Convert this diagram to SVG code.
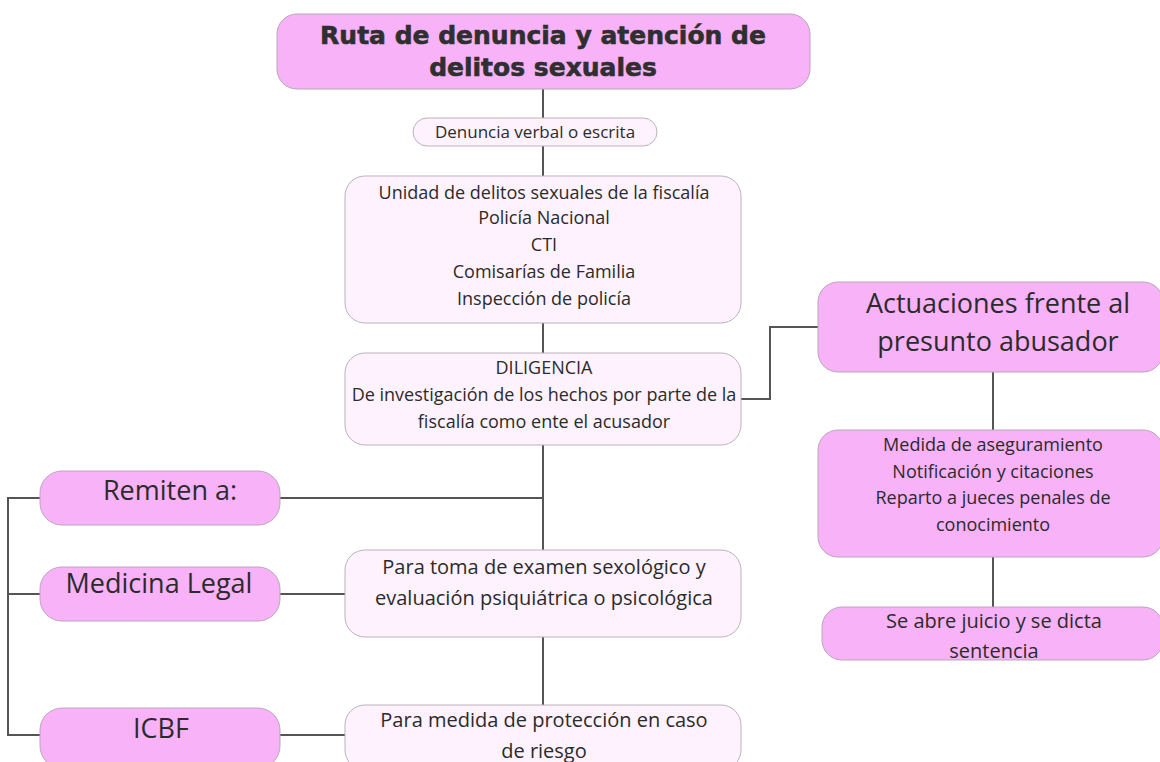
<svg xmlns="http://www.w3.org/2000/svg" width="1160" height="762" viewBox="0 0 1160 762">
<style>
.pk{fill:#f8b2f8;stroke:#b9a6b9;stroke-width:1}
.lt{fill:#fdf2fd;stroke:#bcb2bc;stroke-width:1}
.t{font-family:"Open Sans","Liberation Sans",sans-serif;fill:#2b2b2b;text-anchor:middle}
.s{font-size:18px}
.m{font-size:20px}
.l{font-size:27px}
.title{font-family:"DejaVu Sans","Liberation Sans",sans-serif;font-weight:bold;font-size:25px;fill:#2f2f2f;text-anchor:middle;stroke:#2f2f2f;stroke-width:0.6}
.c{fill:none;stroke:#555;stroke-width:2}
</style>
<rect width="1160" height="762" fill="#fff"/>
<g id="connectors">
<path class="c" d="M543 89V118M543 146V176M543 323V353M543 445V550M543 637V705"/>
<path class="c" d="M280 498H543"/>
<path class="c" d="M741 399H770V327H818"/>
<path class="c" d="M993 372V430M993 557V607"/>
<path class="c" d="M40 498H8V735H40M8 594H40"/>
<path class="c" d="M280 594H345M280 735H345"/>
</g>
<g id="title">
<rect class="pk" x="277" y="14" width="533" height="75" rx="20"/>
<text class="title" x="543" y="44">Ruta de denuncia y atención de</text>
<text class="title" x="543" y="76">delitos sexuales</text>
</g>
<g id="denuncia">
<rect class="lt" x="413" y="118" width="244" height="28" rx="14"/>
<text class="t" font-size="17" x="535" y="138">Denuncia verbal o escrita</text>
</g>
<g id="unidad">
<rect class="lt" x="345" y="176" width="396" height="147" rx="20"/>
<text class="t s" x="544" y="199">Unidad de delitos sexuales de la fiscalía</text>
<text class="t s" x="544" y="224">Policía Nacional</text>
<text class="t s" x="544" y="251">CTI</text>
<text class="t s" x="544" y="278">Comisarías de Familia</text>
<text class="t s" x="544" y="305">Inspección de policía</text>
</g>
<g id="diligencia">
<rect class="lt" x="345" y="353" width="396" height="92" rx="20"/>
<text class="t s" x="544" y="374">DILIGENCIA</text>
<text class="t s" x="544" y="401">De investigación de los hechos por parte de la</text>
<text class="t s" x="544" y="428">fiscalía como ente el acusador</text>
</g>
<g id="actuaciones">
<rect class="pk" x="818" y="282" width="345" height="90" rx="20"/>
<text class="t" font-size="27" x="998" y="313">Actuaciones frente al</text>
<text class="t" font-size="27" x="998" y="351">presunto abusador</text>
</g>
<g id="medida">
<rect class="pk" x="818" y="430" width="345" height="127" rx="20"/>
<text class="t s" x="993" y="451">Medida de aseguramiento</text>
<text class="t s" x="993" y="478">Notificación y citaciones</text>
<text class="t s" x="993" y="504">Reparto a jueces penales de</text>
<text class="t s" x="993" y="531">conocimiento</text>
</g>
<g id="juicio">
<rect class="pk" x="822" y="607" width="341" height="53" rx="20"/>
<text class="t m" x="994" y="628">Se abre juicio y se dicta</text>
<text class="t m" x="994" y="658">sentencia</text>
</g>
<g id="remiten">
<rect class="pk" x="40" y="471" width="240" height="54" rx="22"/>
<text class="t l" x="170" y="500">Remiten a:</text>
</g>
<g id="medicina">
<rect class="pk" x="40" y="567" width="240" height="54" rx="22"/>
<text class="t l" x="159" y="593">Medicina Legal</text>
</g>
<g id="icbf">
<rect class="pk" x="40" y="708" width="240" height="60" rx="22"/>
<text class="t l" x="161" y="738">ICBF</text>
</g>
<g id="paratoma">
<rect class="lt" x="345" y="550" width="396" height="87" rx="20"/>
<text class="t m" x="544" y="574">Para toma de examen sexológico y</text>
<text class="t m" x="544" y="605">evaluación psiquiátrica o psicológica</text>
</g>
<g id="paramedida">
<rect class="lt" x="345" y="705" width="396" height="65" rx="20"/>
<text class="t m" x="544" y="727">Para medida de protección en caso</text>
<text class="t m" x="544" y="758">de riesgo</text>
</g>
</svg>
